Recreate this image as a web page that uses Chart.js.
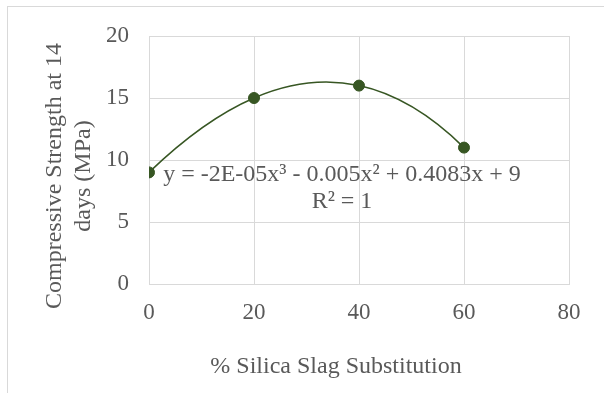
<!DOCTYPE html>
<html>
<head>
<meta charset="utf-8">
<script src="https://cdn.jsdelivr.net/npm/chart.js@4"></script>
<style>
html, body { margin: 0; padding: 0; background: #fff; }
</style>
</head>
<body>
<canvas id="myChart" width="604" height="393"></canvas>
<script>
// data
const silica = [0, 20, 40, 60]
const strength = [9, 15, 16, 11]
const xTicks = [0, 20, 40, 60, 80]
const yTicks = [0, 5, 10, 15, 20]
const trendText = ['y = -2E-05x³ - 0.005x² + 0.4083x + 9', 'R² = 1']
const xTitle = '% Silica Slag Substitution'
const yTitle = ['Compressive Strength at 14', 'days (MPa)']

const GREEN = '#375623'
const GREY = '#595959'
const GRID = '#d9d9d9'
const FONT = 'Liberation Serif, Times New Roman, serif'

var points = silica.map(function (x, i) { return { x: x, y: strength[i] } })

// slope of the cubic through the 4 points (the R² = 1 trendline), newton form
function slopeAt(xs, ys, x) {
  var n = xs.length
  var c = ys.slice()
  for (var j = 1; j < n; j++) {
    for (var i = n - 1; i >= j; i--) {
      c[i] = (c[i] - c[i - 1]) / (xs[i] - xs[i - j])
    }
  }
  // p(x) = c0 + c1(x-x0) + c2(x-x0)(x-x1) + ...
  var p = c[n - 1], dp = 0
  for (var k = n - 2; k >= 0; k--) {
    dp = dp * (x - xs[k]) + p
    p = p * (x - xs[k]) + c[k]
  }
  return dp
}

// bend the trend line's bezier handles so it follows the cubic
var trendCurve = {
  id: 'trendCurve',
  beforeDatasetDraw: function (chart, args) {
    if (args.index !== 0) return
    var meta = args.meta
    var xs = chart.scales.x, ys = chart.scales.y
    meta.dataset.updateControlPoints(chart.chartArea, 'x')
    meta.data.forEach(function (pt, i) {
      var x = silica[i], y = strength[i]
      var m = slopeAt(silica, strength, x)
      if (i > 0) {
        var h0 = (x - silica[i - 1]) / 3
        pt.cp1x = xs.getPixelForValue(x - h0)
        pt.cp1y = ys.getPixelForValue(y - m * h0)
      }
      if (i < silica.length - 1) {
        var h1 = (silica[i + 1] - x) / 3
        pt.cp2x = xs.getPixelForValue(x + h1)
        pt.cp2y = ys.getPixelForValue(y + m * h1)
      }
    })
  }
}

// frame, axis titles and the trendline label
var extras = {
  id: 'extras',
  beforeDraw: function (chart) {
    var ctx = chart.ctx
    ctx.save()
    ctx.fillStyle = '#fff'
    ctx.fillRect(0, 0, chart.width, chart.height)
    ctx.strokeStyle = GRID
    ctx.lineWidth = 1
    ctx.strokeRect(7.5, 6.5, 700, 500)
    ctx.restore()
  },
  afterDraw: function (chart) {
    var ctx = chart.ctx
    ctx.save()
    ctx.fillStyle = GREY
    ctx.textAlign = 'center'
    ctx.textBaseline = 'middle'
    ctx.font = '24px ' + FONT
    ctx.fillText(trendText[0], 342, 175)
    ctx.fillText(trendText[1], 342, 202)

    ctx.fillText(xTitle, 336, 367)

    ctx.translate(0, 176)
    ctx.rotate(-Math.PI / 2)
    ctx.fillText(yTitle[0], 0, 55)
    ctx.fillText(yTitle[1], 0, 84)
    ctx.restore()
  }
}

var ctx = document.getElementById('myChart').getContext('2d')
var chart = new Chart(ctx, {
  type: 'scatter',
  data: {
    datasets: [{
      label: 'trend',
      data: points,
      showLine: true,
      tension: 0.4,
      borderColor: GREEN,
      borderWidth: 1.5,
      pointRadius: 0,
      order: 2
    }, {
      label: 'strength',
      data: points,
      backgroundColor: GREEN,
      borderColor: GREEN,
      pointRadius: 5.5,
      pointHoverRadius: 5.5,
      order: 1
    }]
  },
  options: {
    responsive: false,
    animation: false,
    layout: { padding: { top: 36, right: 35, left: 0, bottom: 0 } },
    plugins: {
      legend: { display: false },
      tooltip: { enabled: false }
    },
    scales: {
      x: {
        type: 'linear',
        min: 0,
        max: 80,
        afterBuildTicks: function (s) { s.ticks = xTicks.map(function (v) { return { value: v } }) },
        afterFit: function (s) { s.height = 109 },
        grid: { color: GRID, drawTicks: false },
        border: { color: GRID },
        ticks: { color: GREY, padding: 15, font: { family: FONT, size: 23 } }
      },
      y: {
        type: 'linear',
        min: 0,
        max: 20,
        afterBuildTicks: function (s) { s.ticks = yTicks.map(function (v) { return { value: v } }) },
        afterFit: function (s) { s.width = 149 },
        grid: { color: GRID, drawTicks: false },
        border: { color: GRID },
        ticks: { color: GREY, padding: 20, font: { family: FONT, size: 23 } }
      }
    }
  },
  plugins: [trendCurve, extras]
})
</script>
</body>
</html>
